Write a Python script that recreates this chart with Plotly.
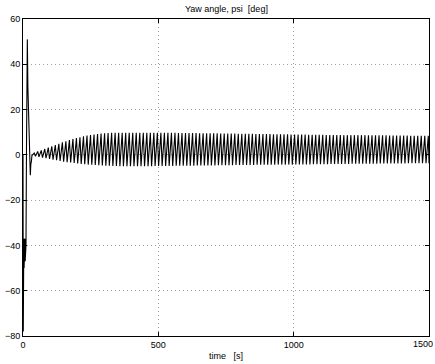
import numpy as np
import plotly.graph_objects as go

# Start-up transient of the yaw angle (time [s], psi [deg])
t_start = [0, 1, 2, 3, 4, 5, 6, 7, 8, 9, 10, 11, 13, 16, 18, 19.5, 21, 24, 27, 29, 31]
psi_start = [0, -78, -55, -37, -50, -38, -49, -37, -47, -40, -45, -40, 5, 51, 30, 23, 20, 5, -9, -4, -3]

# Limit cycle: one crest and one trough per oscillation period
cycle_t0 = 33.0      # s, first cycle
cycle_period = 13.0  # s
cycle_rise = 0.65    # fraction of the period spent rising

psi_crest = [
    0.8, 1.5, 2.0, 2.6, 3.2, 3.8,
    4.3, 4.9, 5.5, 6.0, 6.5, 7.0, 7.4,
    7.8, 8.2, 8.5, 8.8, 9.0, 9.2, 9.4,
    9.5, 9.6, 9.7, 9.7, 9.8, 9.8, 9.8, 9.8, 9.8, 9.8, 9.8,
    9.8, 9.8, 9.8, 9.7, 9.7, 9.7, 9.7, 9.7, 9.7, 9.7, 9.6, 9.6, 9.6, 9.6, 9.6, 9.6, 9.5, 9.5, 9.5, 9.5,
    9.5, 9.5, 9.4, 9.4, 9.4, 9.4, 9.4, 9.3, 9.3, 9.3, 9.3, 9.3, 9.2, 9.2, 9.2, 9.2, 9.2, 9.1, 9.1, 9.1,
    9.1, 9.1, 9.0, 9.0, 9.0, 9.0, 9.0, 8.9, 8.9, 8.9, 8.9, 8.9, 8.8, 8.8, 8.8, 8.8, 8.8, 8.7, 8.7, 8.7,
    8.7, 8.7, 8.7, 8.7, 8.6, 8.6, 8.6, 8.6, 8.6, 8.6, 8.5, 8.5, 8.5, 8.5, 8.5, 8.5, 8.4, 8.4, 8.4, 8.4, 8.4, 8.4,
]
psi_trough = [
    -0.3, -0.6, -0.9, -1.2, -1.5, -1.8,
    -2.1, -2.4, -2.7, -3.0, -3.2, -3.4, -3.6,
    -3.8, -4.0, -4.1, -4.3, -4.4, -4.5, -4.6,
    -4.7, -4.8, -4.8, -4.9, -4.9, -5.0, -5.0, -5.0, -5.0, -5.0, -5.0,
    -5.0, -5.0, -5.0, -5.0, -4.9, -4.9, -4.9, -4.9, -4.9, -4.9, -4.8, -4.8, -4.8, -4.8, -4.8, -4.8, -4.7, -4.7, -4.7, -4.7,
    -4.7, -4.7, -4.6, -4.6, -4.6, -4.6, -4.6, -4.5, -4.5, -4.5, -4.5, -4.5, -4.5, -4.4, -4.4, -4.4, -4.4, -4.4, -4.4, -4.3,
    -4.3, -4.3, -4.3, -4.3, -4.2, -4.2, -4.2, -4.2, -4.2, -4.1, -4.1, -4.1, -4.1, -4.1, -4.0, -4.0, -4.0, -4.0, -4.0, -4.0,
    -3.9, -3.9, -3.9, -3.9, -3.9, -3.9, -3.9, -3.9, -3.8, -3.8, -3.8, -3.8, -3.8, -3.8, -3.8, -3.8, -3.7, -3.7, -3.7, -3.7, -3.7, -3.7,
]

x_ticks = [0, 500, 1000, 1500]
y_ticks = [-80, -60, -40, -20, 0, 20, 40, 60]

# assemble the time series: transient, then trough/crest pairs
t = list(t_start)
psi = list(psi_start)
for k, (lo, hi) in enumerate(zip(psi_trough, psi_crest)):
    t0 = cycle_t0 + k * cycle_period
    t += [t0, t0 + cycle_rise * cycle_period]
    psi += [lo, hi]
t.append(1500)
psi.append(psi_trough[-1])

font = dict(family="Liberation Sans, Arial, sans-serif", size=9, color="black")
nb = "\u00a0"

fig = go.Figure(go.Scatter(x=t, y=psi, mode="lines",
                           line=dict(color="black", width=1.1), hoverinfo="skip"))

axis_common = dict(
    showline=True, linecolor="black", linewidth=1, mirror="ticks",
    ticks="inside", ticklen=4, tickcolor="black", tickwidth=1,
    showgrid=True, gridcolor="#a0a0a0", gridwidth=1, griddash="1px,3px",
    zeroline=False, tickfont=font, ticklabeloverflow="allow", automargin=False,
)

# the last x label sits against the right edge, so it is drawn as an annotation
x_ticktext = [str(v) for v in x_ticks[:-1]] + [""]
fig.update_xaxes(range=[0, 1500], tickvals=x_ticks, ticktext=x_ticktext, **axis_common)
fig.update_yaxes(range=[-80, 60], tickvals=y_ticks,
                 ticktext=[str(v).replace("-", "\u2212") for v in y_ticks],
                 **axis_common)

fig.update_layout(
    width=435, height=364,
    margin=dict(l=23, r=6, t=19, b=28),
    paper_bgcolor="white", plot_bgcolor="white",
    showlegend=False,
    font=font,
    annotations=[
        dict(text=f"Yaw angle, psi{nb}{nb}[deg]", xref="paper", yref="paper",
             x=0.5, y=1, yshift=3, xanchor="center", yanchor="bottom",
             showarrow=False, font=font),
        dict(text=f"time{nb}{nb}{nb}[s]", xref="paper", yref="paper",
             x=0.5, y=0, yshift=-13, xanchor="center", yanchor="top",
             showarrow=False, font=font),
        dict(text=str(x_ticks[-1]), xref="x", yref="paper",
             x=x_ticks[-1], y=0, xshift=5, yshift=-2, xanchor="right", yanchor="top",
             showarrow=False, font=font, borderpad=0),
    ],
)

fig.write_html("out.html")
